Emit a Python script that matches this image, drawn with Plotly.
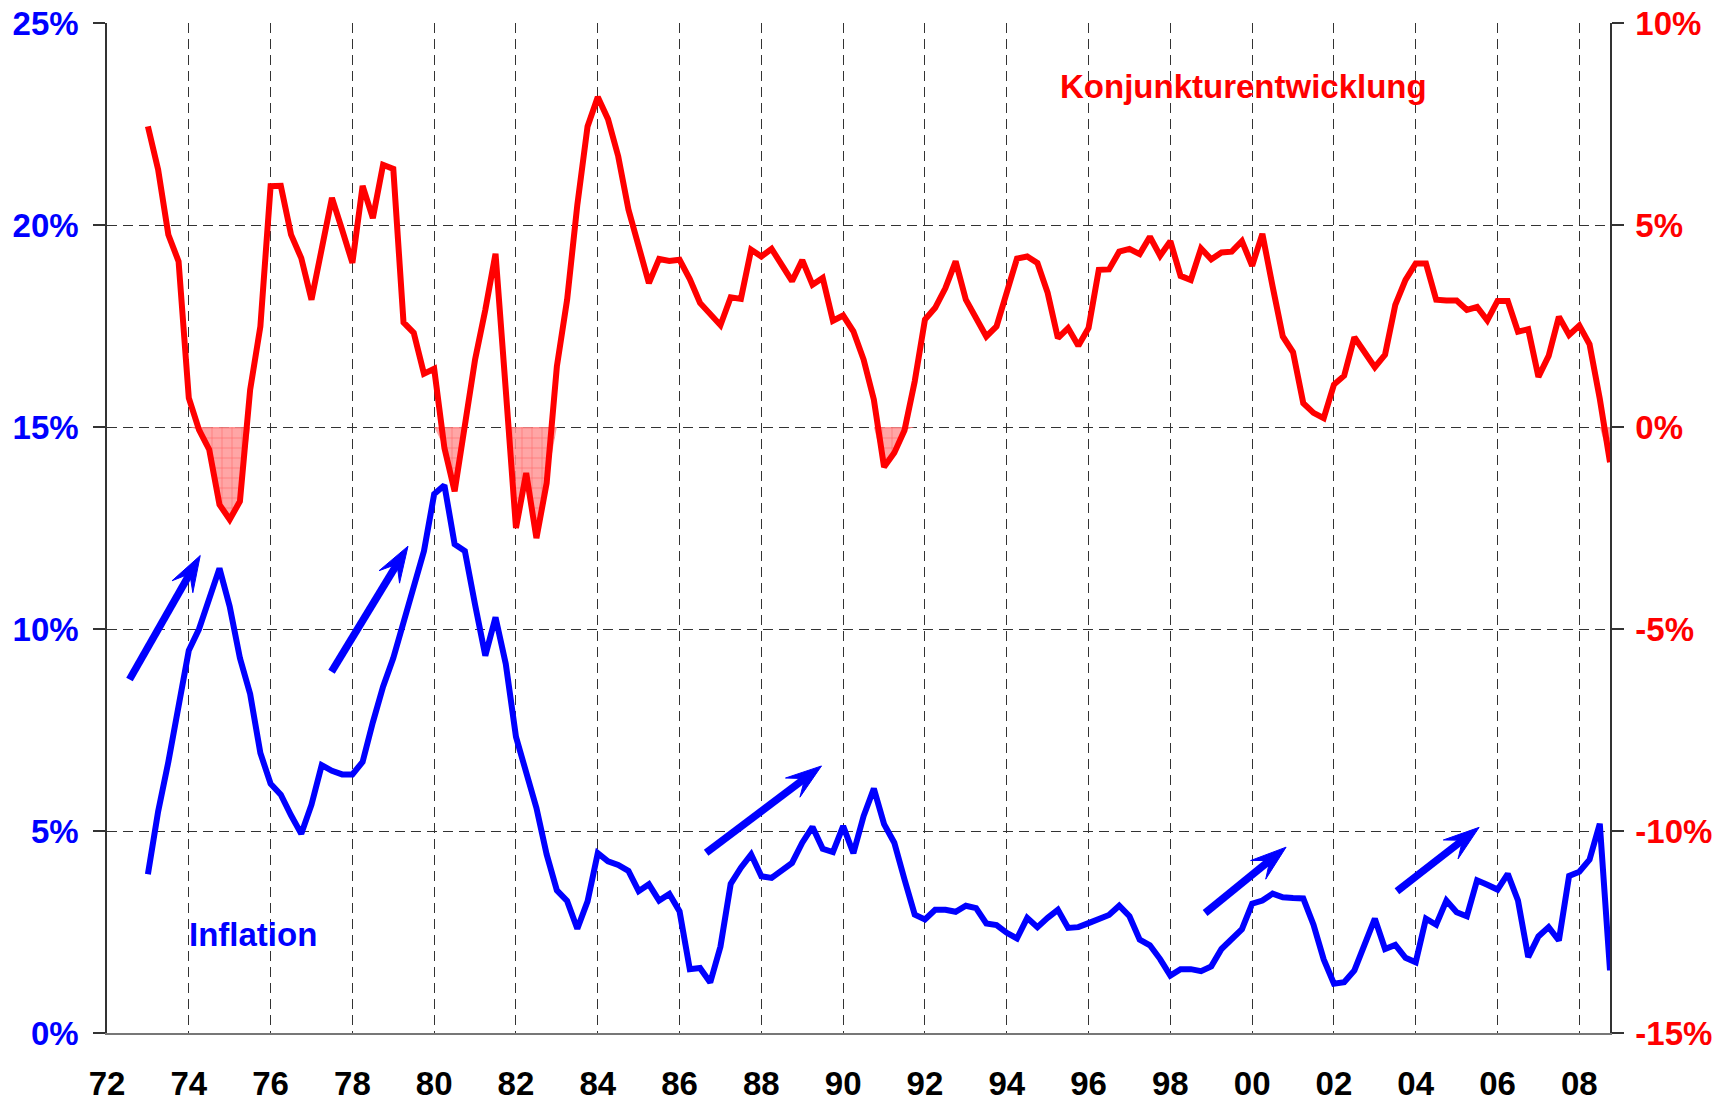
import numpy as np
import plotly.graph_objects as go

# ---------------- data (quarterly, 1973 Q1 .. 2008 Q4) ----------------
start_year = 1973
# Konjunkturentwicklung (right axis, %)
konjunktur = [
    7.44, 6.37, 4.76, 4.10,    # 1973
    0.72, -0.07, -0.56, -1.92,  # 1974
    -2.29, -1.84, 0.92, 2.49,   # 1975
    5.96, 5.97, 4.76, 4.18,     # 1976
    3.15, 4.40, 5.67, 4.88,     # 1977
    4.06, 5.97, 5.17, 6.49,     # 1978
    6.39, 2.59, 2.33, 1.32,     # 1979
    1.44, -0.52, -1.59, 0.04,   # 1980
    1.67, 2.90, 4.29, 0.92,     # 1981
    -2.50, -1.14, -2.75, -1.39, # 1982
    1.50, 3.15, 5.50, 7.44,     # 1983
    8.17, 7.62, 6.70, 5.38,     # 1984
    4.43, 3.56, 4.16, 4.11,     # 1985
    4.14, 3.66, 3.07, 2.82,     # 1986
    2.52, 3.21, 3.17, 4.39,     # 1987
    4.22, 4.41, 4.04, 3.61,     # 1988
    4.13, 3.52, 3.69, 2.63,     # 1989
    2.76, 2.37, 1.67, 0.68,     # 1990
    -0.99, -0.64, -0.08, 1.13,  # 1991
    2.66, 2.95, 3.44, 4.10,     # 1992
    3.15, 2.70, 2.24, 2.49,     # 1993
    3.32, 4.17, 4.22, 4.06,     # 1994
    3.32, 2.20, 2.45, 2.01,     # 1995
    2.45, 3.89, 3.90, 4.34,     # 1996
    4.41, 4.28, 4.71, 4.24,     # 1997
    4.60, 3.74, 3.64, 4.42,     # 1998
    4.15, 4.32, 4.34, 4.60,     # 1999
    3.99, 4.78, 3.48, 2.24,     # 2000
    1.85, 0.59, 0.35, 0.22,     # 2001
    1.05, 1.27, 2.22, 1.85,     # 2002
    1.48, 1.79, 3.02, 3.64,     # 2003
    4.05, 4.05, 3.15, 3.13,     # 2004
    3.13, 2.90, 2.97, 2.64,     # 2005
    3.12, 3.12, 2.36, 2.42,     # 2006
    1.24, 1.76, 2.73, 2.28,     # 2007
    2.51, 2.05, 0.70, -0.87,    # 2008
]
# Inflation (left axis, %)
inflation = [
    3.93, 5.48, 6.71, 8.04,     # 1973
    9.47, 10.00, 10.78, 11.50,  # 1974
    10.56, 9.28, 8.39, 6.93,    # 1975
    6.17, 5.90, 5.39, 4.93,     # 1976
    5.65, 6.63, 6.49, 6.40,     # 1977
    6.40, 6.71, 7.69, 8.57,     # 1978
    9.28, 10.16, 11.04, 11.93,  # 1979
    13.34, 13.56, 12.10, 11.93, # 1980
    10.60, 9.34, 10.29, 9.14,   # 1981
    7.33, 6.49, 5.57, 4.42,     # 1982
    3.53, 3.27, 2.58, 3.26,     # 1983
    4.45, 4.25, 4.16, 4.01,     # 1984
    3.51, 3.68, 3.28, 3.44,     # 1985
    3.01, 1.58, 1.61, 1.25,     # 1986
    2.14, 3.69, 4.09, 4.42,     # 1987
    3.88, 3.84, 4.03, 4.21,     # 1988
    4.71, 5.10, 4.56, 4.48,     # 1989
    5.12, 4.45, 5.37, 6.05,     # 1990
    5.17, 4.71, 3.80, 2.93,     # 1991
    2.81, 3.05, 3.05, 3.00,     # 1992
    3.15, 3.09, 2.71, 2.67,     # 1993
    2.48, 2.34, 2.85, 2.62,     # 1994
    2.85, 3.05, 2.60, 2.62,     # 1995
    2.72, 2.82, 2.92, 3.15,     # 1996
    2.89, 2.31, 2.17, 1.83,     # 1997
    1.42, 1.58, 1.58, 1.53,     # 1998
    1.65, 2.08, 2.31, 2.57,     # 1999
    3.20, 3.28, 3.45, 3.36,     # 2000
    3.34, 3.33, 2.68, 1.82,     # 2001
    1.22, 1.26, 1.55, 2.19,     # 2002
    2.83, 2.08, 2.18, 1.86,     # 2003
    1.75, 2.83, 2.68, 3.28,     # 2004
    2.99, 2.89, 3.78, 3.67,     # 2005
    3.55, 3.94, 3.28, 1.88,     # 2006
    2.39, 2.62, 2.29, 3.89,     # 2007
    3.99, 4.29, 5.18, 1.55,     # 2008
]

x_tickvals = list(range(1972, 2009, 2))
x_ticktext = ["72", "74", "76", "78", "80", "82", "84", "86", "88", "90",
              "92", "94", "96", "98", "00", "02", "04", "06", "08"]
left_tickvals = [0, 5, 10, 15, 20, 25]
left_ticktext = ["0%", "5%", "10%", "15%", "20%", "25%"]
right_tickvals = [-15, -10, -5, 0, 5, 10]
right_ticktext = ["-15%", "-10%", "-5%", "0%", "5%", "10%"]

# trend arrows (tail year, tail %, head year, head %) on the inflation axis
arrows = [
    (1972.55, 8.75, 1974.28, 11.82),
    (1977.49, 8.94, 1979.36, 12.05),
    (1986.65, 4.46, 1989.47, 6.61),
    (1998.85, 2.97, 2000.83, 4.60),
    (2003.54, 3.51, 2005.55, 5.09),
]

# ---------------- layout geometry ----------------
# the page body has an 8px margin, so the figure is sized to fit the window
W, H = 1721, 1095
M_L, M_R, M_T, M_B = 99, 119, 15, 70
X_RANGE = [1972, 2008.75]
Y_RANGE = [0, 25]
Y2_RANGE = [-15, 10]
px_x = (W - M_L - M_R) / (X_RANGE[1] - X_RANGE[0])
px_y = (H - M_T - M_B) / (Y_RANGE[1] - Y_RANGE[0])

red = "#ff0000"
blue = "#0000ff"
quarters = start_year + 0.25 * np.arange(len(konjunktur))
konj = np.array(konjunktur)
neg = np.minimum(konj, 0.0)

fig = go.Figure()
fig.add_trace(go.Scatter(x=quarters, y=konj * 0, yaxis="y2", mode="lines",
                         line=dict(width=0, color="rgba(0,0,0,0)"),
                         hoverinfo="skip", showlegend=False))
fig.add_trace(go.Scatter(x=quarters, y=neg, yaxis="y2", mode="lines",
                         fill="tonexty", fillcolor="rgba(255,130,130,0.85)",
                         fillpattern=dict(shape="+", fgcolor="rgba(255,0,0,0.7)",
                                          bgcolor="rgba(255,150,150,0.85)",
                                          size=10, solidity=0.12),
                         line=dict(width=0, color="rgba(0,0,0,0)"),
                         hoverinfo="skip", showlegend=False))
fig.add_trace(go.Scatter(x=quarters, y=konj, yaxis="y2", mode="lines",
                         line=dict(color=red, width=6), name="Konjunkturentwicklung",
                         showlegend=False))
fig.add_trace(go.Scatter(x=quarters, y=inflation, yaxis="y", mode="lines",
                         line=dict(color=blue, width=6), name="Inflation",
                         showlegend=False))

font_family = "Liberation Sans, Arial, Helvetica, sans-serif"
grid_dash = "10px,6px"
grid_color = "#333333"

# arrows: shaft line + slender barbed head, built in pixel space
shapes = []
HEAD_LEN, NOTCH, HALF_W, SHAFT_W = 36.0, 21.0, 12.0, 7.5
for tx, ty, hx, hy in arrows:
    dx = (hx - tx) * px_x
    dy = (hy - ty) * px_y
    L = np.hypot(dx, dy)
    ux, uy = dx / L, dy / L
    nx, ny = -uy, ux

    def to_data(px, py):
        return hx + px / px_x, hy + py / px_y

    b1 = to_data(-HEAD_LEN * ux + HALF_W * nx, -HEAD_LEN * uy + HALF_W * ny)
    b2 = to_data(-HEAD_LEN * ux - HALF_W * nx, -HEAD_LEN * uy - HALF_W * ny)
    nt = to_data(-NOTCH * ux, -NOTCH * uy)
    sh = to_data(-(NOTCH - 3) * ux, -(NOTCH - 3) * uy)
    shapes.append(dict(type="line", xref="x", yref="y", x0=tx, y0=ty,
                       x1=sh[0], y1=sh[1], line=dict(color=blue, width=SHAFT_W)))
    path = (f"M {hx},{hy} L {b1[0]},{b1[1]} L {nt[0]},{nt[1]} "
            f"L {b2[0]},{b2[1]} Z")
    shapes.append(dict(type="path", xref="x", yref="y", path=path,
                       fillcolor=blue, line=dict(color=blue, width=1)))

annotations = [
    dict(x=1995.26, y=23.44, xref="x", yref="y",
         text="Konjunkturentwicklung", showarrow=False,
         xanchor="left", yanchor="middle",
         font=dict(family=font_family, size=33, color=red, weight="bold")),
    dict(x=1973.96, y=2.43, xref="x", yref="y",
         text="Inflation", showarrow=False,
         xanchor="left", yanchor="middle",
         font=dict(family=font_family, size=33, color=blue, weight="bold")),
]

fig.update_layout(
    width=W, height=H,
    margin=dict(l=M_L, r=M_R, t=M_T, b=M_B, autoexpand=False),
    paper_bgcolor="white", plot_bgcolor="white",
    showlegend=False,
    font=dict(family=font_family),
    xaxis=dict(range=X_RANGE, tickmode="array", tickvals=x_tickvals,
               ticktext=x_ticktext, showgrid=True, gridcolor=grid_color,
               griddash=grid_dash, gridwidth=1.2, zeroline=False,
               showline=True, linecolor="#777777", linewidth=2,
               ticks="", ticklabelstandoff=20, automargin=False,
               ticklabeloverflow="allow",
               tickfont=dict(size=33, color="black", weight="bold")),
    yaxis=dict(range=Y_RANGE, tickmode="array", tickvals=left_tickvals,
               ticktext=left_ticktext, showgrid=True, gridcolor=grid_color,
               griddash=grid_dash, gridwidth=1.2, zeroline=False,
               showline=True, linecolor="#333333", linewidth=1.5,
               ticks="outside", ticklen=12, tickcolor="#333333", tickwidth=1.5,
               ticklabelstandoff=8, automargin=False,
               ticklabeloverflow="allow",
               tickfont=dict(size=33, color=blue, weight="bold")),
    yaxis2=dict(range=Y2_RANGE, overlaying="y", side="right", tickmode="array",
                tickvals=right_tickvals, ticktext=right_ticktext,
                showgrid=False, zeroline=False,
                showline=True, linecolor="#333333", linewidth=1.5,
                ticks="outside", ticklen=12, tickcolor="#333333", tickwidth=1.5,
                ticklabelstandoff=5, automargin=False,
                ticklabeloverflow="allow",
                tickfont=dict(size=33, color=red, weight="bold")),
    shapes=shapes,
    annotations=annotations,
)

fig.write_html("out.html")
